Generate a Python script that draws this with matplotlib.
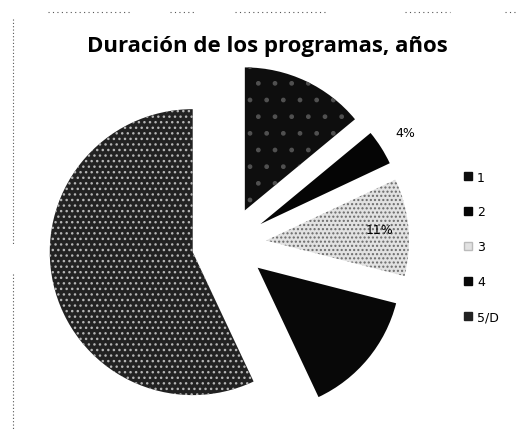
import numpy as np
import matplotlib.pyplot as plt
from matplotlib.lines import Line2D

# Duración de los programas, años
categorias = ['1', '2', '3', '4', '5/D']
porcentajes = [14, 4, 11, 14, 57]
colores = ['#0e0e0e', '#050505', '#e2e2e2', '#080808', '#222222']
tramas = ['.', '', '....', '', '...']
color_trama = ['#505050', '#050505', '#6a6a6a', '#080808', '#b5b5b5']
# distancia de cada etiqueta (en radios, desde el centro de su sector);
# None = etiqueta que no se ve en el original (negro sobre negro)
dist_etiqueta = [None, 1.2, 0.8, None, None]

fig = plt.figure(figsize=(5.18, 4.31), dpi=100)
ax = fig.add_axes([0.0418, -0.0495, 0.8006, 0.962])

wedges, _ = ax.pie(porcentajes, startangle=90, counterclock=False,
                   colors=colores, explode=[0.26] * 5, radius=1.0,
                   wedgeprops=dict(linewidth=0))
for w, h, hc in zip(wedges, tramas, color_trama):
    w.set_hatch(h)
    w.set_edgecolor(hc)

for w, p, d in zip(wedges, porcentajes, dist_etiqueta):
    if d is None:
        continue
    ang = np.deg2rad((w.theta1 + w.theta2) / 2)
    cx, cy = w.center
    ax.text(cx + d * np.cos(ang), cy + d * np.sin(ang), f'{p}%',
            ha='center', va='center', fontsize=9, color='black',
            family='DejaVu Sans')

ax.set_xlim(-1.45, 1.45)
ax.set_ylim(-1.45, 1.45)
ax.set_aspect('equal')
ax.axis('off')

fig.text(0.517, 0.892, 'Duración de los programas, años', ha='center',
         va='center', fontsize=16, fontweight='bold', family='Open Sans')

handles = [Line2D([], [], marker='s', linestyle='none', markersize=6,
                  markerfacecolor=c, markeredgecolor=c) for c in colores]
handles[2] = Line2D([], [], marker='s', linestyle='none', markersize=6,
                    markerfacecolor='#e2e2e2', markeredgecolor='#bbbbbb')
fig.legend(handles, categorias, loc='center left',
           bbox_to_anchor=(0.875, 0.425), frameon=False, fontsize=9,
           labelspacing=1.75, handlelength=0.6, handletextpad=0.4)

# restos del borde punteado del escaneo
y_top = 1 - 13 / 431
for x0, x1 in [(48, 130), (170, 195), (235, 325), (405, 450), (505, 518)]:
    fig.add_artist(Line2D([x0 / 518, x1 / 518], [y_top, y_top],
                          color='#555555', linestyle=(0, (1, 3)),
                          linewidth=0.8))
x_left = 13 / 518
for y0, y1 in [(20, 245), (275, 431)]:
    fig.add_artist(Line2D([x_left, x_left], [1 - y0 / 431, 1 - y1 / 431],
                          color='#555555', linestyle=(0, (1, 2)),
                          linewidth=0.8))

fig.savefig('out.png', dpi=100)
